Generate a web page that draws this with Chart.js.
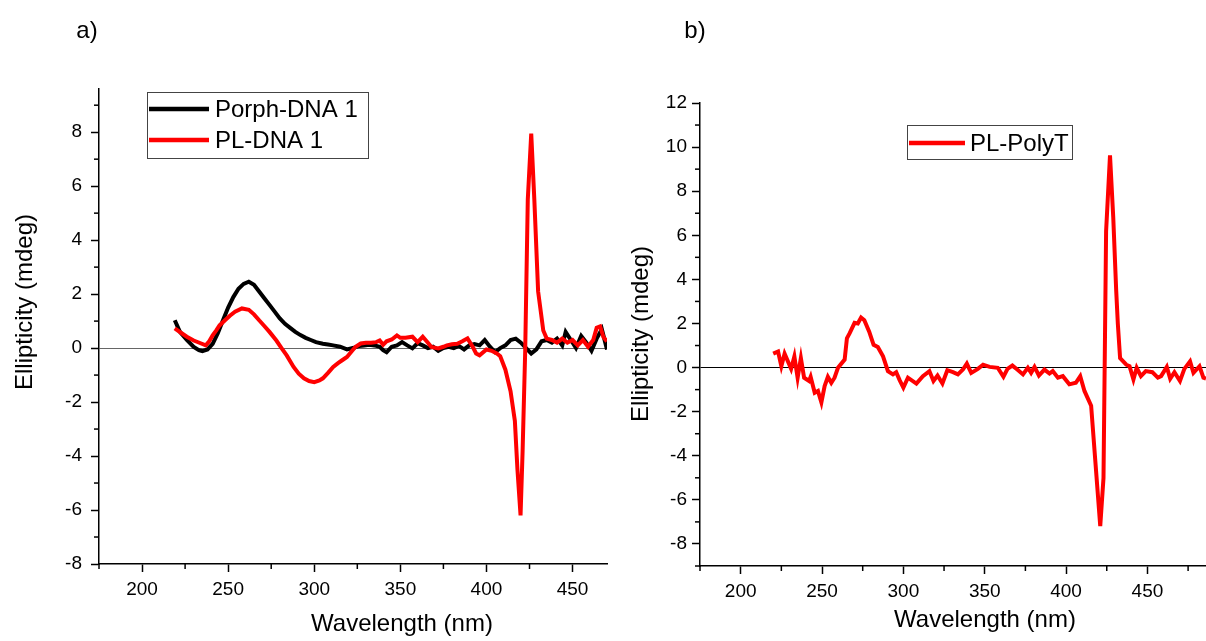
<!DOCTYPE html>
<html>
<head>
<meta charset="utf-8">
<script src="https://cdn.jsdelivr.net/npm/chart.js@4"></script>
<style>
  body { margin: 0; background: #fff; }
  canvas { position: absolute; top: 0; }
  #chartA { left: 0; }
  #chartB { left: 620px; }
</style>
</head>
<body>
<canvas id="chartA" width="620" height="641"></canvas>
<canvas id="chartB" width="586" height="641"></canvas>
<script>
// panel a) Porph-DNA 1 (black)
const porphNm = [
  219, 222, 226, 230, 233, 235, 238, 241, 244, 247,
  250, 253, 256, 259, 262, 265, 268, 271, 274, 277,
  280, 283, 286, 289, 292, 295, 298, 301, 305, 308,
  311, 315, 319, 323, 326, 329, 332, 335, 338, 340,
  342, 345, 348, 351, 354, 357, 360, 363, 366, 369,
  372, 375, 378, 381, 384, 387, 390, 393, 396, 399,
  402, 405, 408, 411, 414, 417, 420, 423, 426, 429,
  432, 435, 438, 441, 444, 446, 449, 452, 455, 458,
  461, 464, 467, 470,
];
const porphVal = [
  1.03, 0.6, 0.3, 0.04, -0.08, -0.11, -0.05, 0.16, 0.55, 1.03,
  1.5, 1.89, 2.2, 2.38, 2.46, 2.35, 2.1, 1.85, 1.6, 1.35,
  1.1, 0.9, 0.75, 0.6, 0.48, 0.38, 0.3, 0.22, 0.16, 0.13,
  0.1, 0.05, -0.05, 0.01, 0.08, 0.1, 0.12, 0.1, 0.05, -0.08,
  -0.15, 0.05, 0.1, 0.22, 0.1, -0.01, 0.18, 0.1, 0.0, 0.05,
  -0.1, 0.0, 0.05, 0.0, 0.08, -0.05, 0.1, 0.15, 0.1, 0.3,
  0.05, -0.15, 0.0, 0.1, 0.3, 0.35, 0.2, 0.0, -0.2, -0.05,
  0.25, 0.3, 0.2, 0.35, 0.1, 0.6, 0.3, 0.0, 0.45, 0.2,
  -0.1, 0.35, 0.7, -0.05,
];

// panel a) PL-DNA 1 (red)
const plNm = [
  219, 223, 226, 230, 234, 237, 239, 241, 243, 245,
  248, 251, 254, 258, 262, 265, 268, 271, 274, 278,
  281, 284, 288, 291, 294, 297, 300, 303, 305, 308,
  311, 314, 316, 319, 322, 324, 327, 330, 333, 336,
  338, 340, 342, 345, 348, 350, 353, 357, 360, 363,
  366, 368, 372, 375, 377, 380, 383, 386, 389, 392,
  394, 396, 400, 403, 406, 408, 411, 414, 416.5, 418,
  419.8, 421, 422.5, 424, 426, 427.8, 430, 433, 435, 438,
  441, 444, 447, 450, 453, 456, 459, 462, 464, 466,
  468, 470,
];
const plVal = [
  0.73, 0.55, 0.42, 0.28, 0.18, 0.1, 0.25, 0.47, 0.65, 0.84,
  1.02, 1.2, 1.35, 1.47, 1.42, 1.25, 1.03, 0.82, 0.6, 0.28,
  0.0, -0.27, -0.7, -0.95, -1.12, -1.22, -1.26, -1.2, -1.12, -0.92,
  -0.7, -0.55, -0.46, -0.33, -0.1, 0.05, 0.17, 0.2, 0.2, 0.22,
  0.28, 0.12, 0.25, 0.32, 0.47, 0.38, 0.38, 0.42, 0.22, 0.42,
  0.2, 0.04, -0.01, 0.05, 0.1, 0.14, 0.16, 0.25, 0.36, 0.05,
  -0.2, -0.27, -0.05, -0.1, -0.2, -0.3, -0.8, -1.6, -2.7, -4.5,
  -6.2, -3.8, -0.1, 5.5, 7.95, 5.5, 2.1, 0.65, 0.35, 0.3,
  0.2, 0.35, 0.2, 0.3, 0.1, 0.3, 0.05, 0.3, 0.75, 0.8,
  0.4, 0.25,
];

// panel b) PL-PolyT (red)
const polyTNm = [
  220, 223, 225, 227, 231, 233, 235, 237, 239, 242,
  243, 245.5, 247.5, 249.6, 251.6, 253.6, 255.7, 257.7, 259.8, 263.9,
  265.3, 267, 270, 272, 274, 276, 279, 281.7, 284.3, 287.5,
  290.5, 293.6, 295.6, 297.7, 300, 302.8, 308, 312, 316, 318.5,
  321, 324, 327, 330.5, 333.5, 336.6, 339, 341.7, 345.8, 349,
  353, 358, 361.5, 364, 367, 370, 373.5, 376.5, 378.5, 380.6,
  383.3, 386.7, 389.8, 391.8, 395, 398, 402, 406, 408.7, 411.3,
  415.4, 421, 423, 424.6, 427, 429, 430.8, 431.8, 433.2, 437,
  439, 441.4, 443.4, 446, 449, 453, 456.4, 458.4, 461.9, 464,
  466.6, 470, 472.7, 476.2, 478.3, 482, 484.4, 486,
];
const polyTVal = [
  0.63, 0.73, 0.06, 0.63, -0.06, 0.51, -0.46, 0.43, -0.46, -0.61,
  -0.42, -1.14, -1.06, -1.58, -0.84, -0.42, -0.69, -0.46, -0.01, 0.36,
  1.33, 1.56, 2.03, 2.0, 2.27, 2.15, 1.63, 1.03, 0.93, 0.51,
  -0.16, -0.31, -0.21, -0.57, -0.91, -0.46, -0.73, -0.39, -0.16, -0.61,
  -0.36, -0.72, -0.12, -0.21, -0.31, -0.09, 0.18, -0.24, -0.06, 0.13,
  0.03, -0.01, -0.42, -0.06, 0.09, -0.09, -0.31, -0.01, -0.24, 0.03,
  -0.36, -0.09, -0.27, -0.16, -0.46, -0.39, -0.76, -0.69, -0.39, -1.06,
  -1.73, -7.19, -5.0, 6.19, 9.63, 6.8, 3.5, 2.0, 0.43, 0.13,
  0.06, -0.54, -0.01, -0.39, -0.16, -0.21, -0.46, -0.39, 0.03, -0.51,
  -0.21, -0.61, -0.06, 0.28, -0.24, 0.06, -0.46, -0.5,
];

// axis ticks
const xTicksMajor = [200, 250, 300, 350, 400, 450];
const yTicksA = [-8, -6, -4, -2, 0, 2, 4, 6, 8];
const yTicksB = [-8, -6, -4, -2, 0, 2, 4, 6, 8, 10, 12];

const FONT = "'Liberation Sans', Arial, sans-serif";

let toPoints = (xs, ys) => xs.map((x, i) => ({ x: x, y: ys[i] }));

let isMajor = (list, v) => list.indexOf(v) > -1;

// draws minor ticks, the boxed legend and the free texts
const decoPlugin = {
  id: "deco",
  afterDraw(chart, args, opts) {
    const ctx = chart.ctx;
    const xs = chart.scales.x;
    const ys = chart.scales.y;
    ctx.save();
    ctx.strokeStyle = "#000";
    ctx.lineWidth = 1.5;
    // minor ticks
    xs.ticks.forEach((t) => {
      if (!isMajor(xTicksMajor, t.value)) {
        const px = xs.getPixelForValue(t.value);
        ctx.beginPath();
        ctx.moveTo(px, xs.top);
        ctx.lineTo(px, xs.top + 5);
        ctx.stroke();
      }
    });
    ys.ticks.forEach((t) => {
      if (!isMajor(opts.yMajor, t.value)) {
        const py = ys.getPixelForValue(t.value);
        ctx.beginPath();
        ctx.moveTo(ys.right, py);
        ctx.lineTo(ys.right - 5, py);
        ctx.stroke();
      }
    });

    // legend
    const lg = opts.legend;
    ctx.strokeStyle = "#444";
    ctx.lineWidth = 1;
    ctx.strokeRect(lg.x + 0.5, lg.y + 0.5, lg.w, lg.h);
    ctx.font = "24px " + FONT;
    ctx.textBaseline = "middle";
    ctx.textAlign = "left";
    ctx.fillStyle = "#000";
    chart.data.datasets.forEach((ds, i) => {
      const rowY = lg.rows[i];
      ctx.strokeStyle = ds.borderColor;
      ctx.lineWidth = 4.5;
      ctx.beginPath();
      ctx.moveTo(lg.x + 2, rowY);
      ctx.lineTo(lg.x + lg.lineLen, rowY);
      ctx.stroke();
      ctx.fillText(ds.label, lg.textX, rowY + 1);
    });

    // panel letter and axis titles
    ctx.fillStyle = "#000";
    ctx.textAlign = "center";
    ctx.font = "24px " + FONT;
    ctx.fillText(opts.panel.text, opts.panel.x, opts.panel.y);
    ctx.fillText("Wavelength (nm)", opts.xTitle.x, opts.xTitle.y);
    ctx.translate(opts.yTitle.x, opts.yTitle.y);
    ctx.rotate(-Math.PI / 2);
    ctx.fillText("Ellipticity (mdeg)", 0, 0);
    ctx.restore();
  },
};
Chart.register(decoPlugin);

let xScale = (min, max, height) => ({
  type: "linear",
  min: min,
  max: max,
  ticks: {
    stepSize: 25,
    includeBounds: false,
    autoSkip: false,
    maxRotation: 0,
    padding: 6,
    color: "#000",
    font: { family: FONT, size: 19 },
    callback: (v) => (isMajor(xTicksMajor, v) ? v : ""),
  },
  grid: {
    drawOnChartArea: false,
    tickLength: 8,
    tickWidth: 1.5,
    tickColor: (c) => (isMajor(xTicksMajor, c.tick.value) ? "#000" : "rgba(0,0,0,0)"),
  },
  border: { display: true, color: "#000", width: 1.5 },
  afterFit: (s) => {
    s.height = height;
  },
});

let yScale = (min, max, major, zeroColor, width, pad) => ({
  type: "linear",
  min: min,
  max: max,
  ticks: {
    stepSize: 1,
    includeBounds: false,
    autoSkip: false,
    padding: pad,
    color: "#000",
    font: { family: FONT, size: 19 },
    callback: (v) => (isMajor(major, v) ? v : ""),
  },
  grid: {
    tickLength: 8,
    tickWidth: 1.5,
    lineWidth: 1,
    color: (c) => (c.tick && c.tick.value === 0 ? zeroColor : "rgba(0,0,0,0)"),
    tickColor: (c) => (isMajor(major, c.tick.value) ? "#000" : "rgba(0,0,0,0)"),
  },
  border: { display: true, color: "#000", width: 1.5 },
  afterFit: (s) => {
    s.width = width;
  },
});

let lineSet = (label, xs, ys, color, order) => ({
  label: label,
  data: toPoints(xs, ys),
  borderColor: color,
  borderWidth: 4,
  pointRadius: 0,
  tension: 0,
  fill: false,
  order: order,
});

let chartA = () => {
  new Chart(document.getElementById("chartA"), {
    type: "line",
    data: {
      datasets: [
        lineSet("Porph-DNA 1", porphNm, porphVal, "#000000", 2),
        lineSet("PL-DNA 1", plNm, plVal, "#ff0000", 1),
      ],
    },
    options: {
      responsive: false,
      animation: false,
      devicePixelRatio: 1,
      layout: { padding: { top: 89, right: 13, left: 0, bottom: 0 } },
      scales: {
        x: xScale(175, 470, 77),
        y: yScale(-8, 9.6, yTicksA, "#666", 99, 9),
      },
      plugins: {
        legend: { display: false },
        tooltip: { enabled: false },
        deco: {
          yMajor: yTicksA,
          legend: { x: 147, y: 92, w: 221, h: 66, rows: [109, 140], lineLen: 62, textX: 215 },
          panel: { text: "a)", x: 87, y: 31 },
          xTitle: { x: 402, y: 624 },
          yTitle: { x: 25, y: 302 },
        },
      },
    },
  });
};

let chartB = () => {
  new Chart(document.getElementById("chartB"), {
    type: "line",
    data: {
      datasets: [lineSet("PL-PolyT", polyTNm, polyTVal, "#ff0000", 1)],
    },
    options: {
      responsive: false,
      animation: false,
      devicePixelRatio: 1,
      layout: { padding: { top: 103, right: 0, left: 0, bottom: 0 } },
      scales: {
        x: xScale(175, 486, 75),
        y: yScale(-9, 12, yTicksB, "#000", 80, 5),
      },
      plugins: {
        legend: { display: false },
        tooltip: { enabled: false },
        deco: {
          yMajor: yTicksB,
          legend: { x: 287, y: 125, w: 165, h: 34, rows: [143], lineLen: 58, textX: 350 },
          panel: { text: "b)", x: 75, y: 31 },
          xTitle: { x: 365, y: 620 },
          yTitle: { x: 21, y: 334 },
        },
      },
    },
  });
};

chartA();
chartB();
</script>
</body>
</html>
